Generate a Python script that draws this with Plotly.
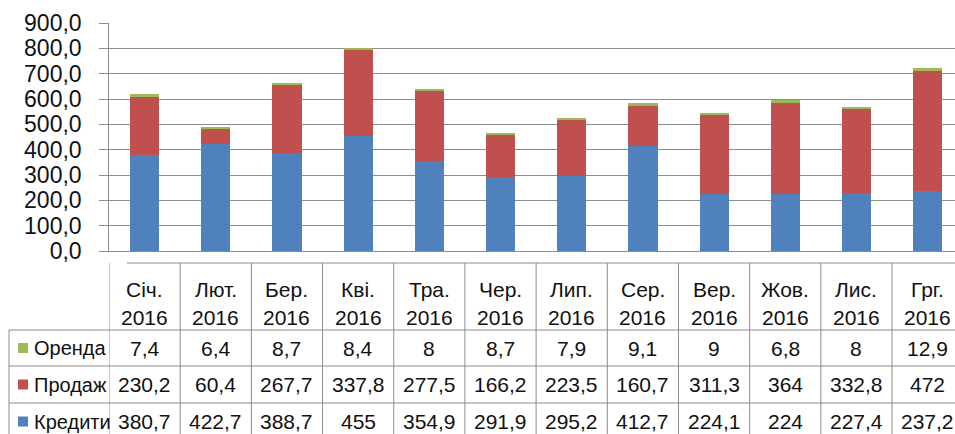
import plotly.graph_objects as go

# Monthly figures, 2016
months = ["Січ.", "Лют.", "Бер.", "Кві.", "Тра.", "Чер.", "Лип.", "Сер.", "Вер.", "Жов.", "Лис.", "Грг."]
year = "2016"
credits = [380.7, 422.7, 388.7, 455, 354.9, 291.9, 295.2, 412.7, 224.1, 224, 227.4, 237.2]
sales = [230.2, 60.4, 267.7, 337.8, 277.5, 166.2, 223.5, 160.7, 311.3, 364, 332.8, 472]
rent = [7.4, 6.4, 8.7, 8.4, 8, 8.7, 7.9, 9.1, 9, 6.8, 8, 12.9]

series = [("Кредити", credits, "#4F81BD"),
          ("Продаж", sales, "#C0504D"),
          ("Оренда", rent, "#9BBB59")]

W, H = 955, 434
L, T, B = 109, 23, 183
PW, PH = W - L, H - T - B
CAT = 71.2          # bar category pitch, px
COL = 69.67         # table column pitch, px
TAB_X0 = 127        # left edge of the table value columns, px
FONT = "Liberation Sans, Arial, sans-serif"
TXT = "#111"
GRID = "#8c8c8c"


def fx(px):
    return (px - L) / PW


def fy(py):
    return (H - B - py) / PH


def fmt(v):
    return str(int(v)) if float(v).is_integer() else str(v).replace(".", ",")


xs = list(range(len(months)))
fig = go.Figure()
for name, vals, color in series:
    fig.add_trace(go.Bar(x=xs, y=vals, name=name, marker=dict(color=color, line=dict(width=0)),
                         width=0.41, showlegend=False, hoverinfo="skip"))

shapes = []
annotations = []

# table grid
rows_y = [263, 330, 366, 403]
for i, y in enumerate(rows_y):
    x0 = TAB_X0 if i == 0 else 9
    shapes.append(dict(type="line", xref="paper", yref="paper", x0=fx(x0), x1=1, y0=fy(y), y1=fy(y),
                       line=dict(color=GRID, width=1)))
shapes.append(dict(type="line", xref="paper", yref="paper", x0=fx(9), x1=fx(9), y0=fy(330), y1=fy(H),
                   line=dict(color=GRID, width=1)))
for i in range(len(months)):
    shapes.append(dict(type="line", xref="x2", yref="paper", x0=i - 0.5, x1=i - 0.5, y0=fy(263), y1=fy(H),
                       line=dict(color=GRID, width=1)))

# header cells
for i, m in enumerate(months):
    annotations.append(dict(x=i, xref="x2", y=fy(289), yref="paper", text=m, showarrow=False,
                            font=dict(family=FONT, size=21, color=TXT), yanchor="middle"))
    annotations.append(dict(x=i, xref="x2", y=fy(317), yref="paper", text=year, showarrow=False,
                            font=dict(family=FONT, size=21, color=TXT), yanchor="middle"))

# value rows with legend keys
row_centers = {"Оренда": 348, "Продаж": 384.5, "Кредити": 421.5}
for name, vals, color in series:
    yc = row_centers[name]
    shapes.append(dict(type="rect", xref="paper", yref="paper", x0=fx(18), x1=fx(28),
                       y0=fy(yc - 5), y1=fy(yc + 5), fillcolor=color, line=dict(width=0)))
    annotations.append(dict(x=fx(32), xref="paper", y=fy(yc), yref="paper", text=name, showarrow=False,
                            xanchor="left", yanchor="middle",
                            font=dict(family=FONT, size=20, color=TXT)))
    for i, v in enumerate(vals):
        annotations.append(dict(x=i, xref="x2", y=fy(yc), yref="paper", text=fmt(v), showarrow=False,
                                yanchor="middle", font=dict(family=FONT, size=21, color=TXT)))

fig.update_layout(
    width=W, height=H,
    margin=dict(l=L, r=0, t=T, b=B, pad=0),
    barmode="stack",
    paper_bgcolor="white", plot_bgcolor="white",
    separators=", ",
    font=dict(family=FONT, color=TXT),
    xaxis=dict(range=[-0.5, -0.5 + PW / CAT], showticklabels=False, showgrid=False,
               zeroline=False, showline=True, linecolor=GRID, linewidth=1, ticks=""),
    xaxis2=dict(domain=[fx(TAB_X0), 1], range=[-0.5, -0.5 + (W - TAB_X0) / COL], anchor="y",
                visible=False, overlaying="x"),
    yaxis=dict(range=[0, 900], dtick=100, tickformat=".1f", ticksuffix="\u00a0\u00a0",
               showgrid=True, gridcolor=GRID,
               gridwidth=1, zeroline=False, showline=True, linecolor=GRID, linewidth=1,
               ticks="outside", ticklen=9, tickcolor=GRID,
               tickfont=dict(family=FONT, size=23, color=TXT)),
    shapes=shapes,
    annotations=annotations,
)

fig.write_html("out.html", config={"displayModeBar": False})
